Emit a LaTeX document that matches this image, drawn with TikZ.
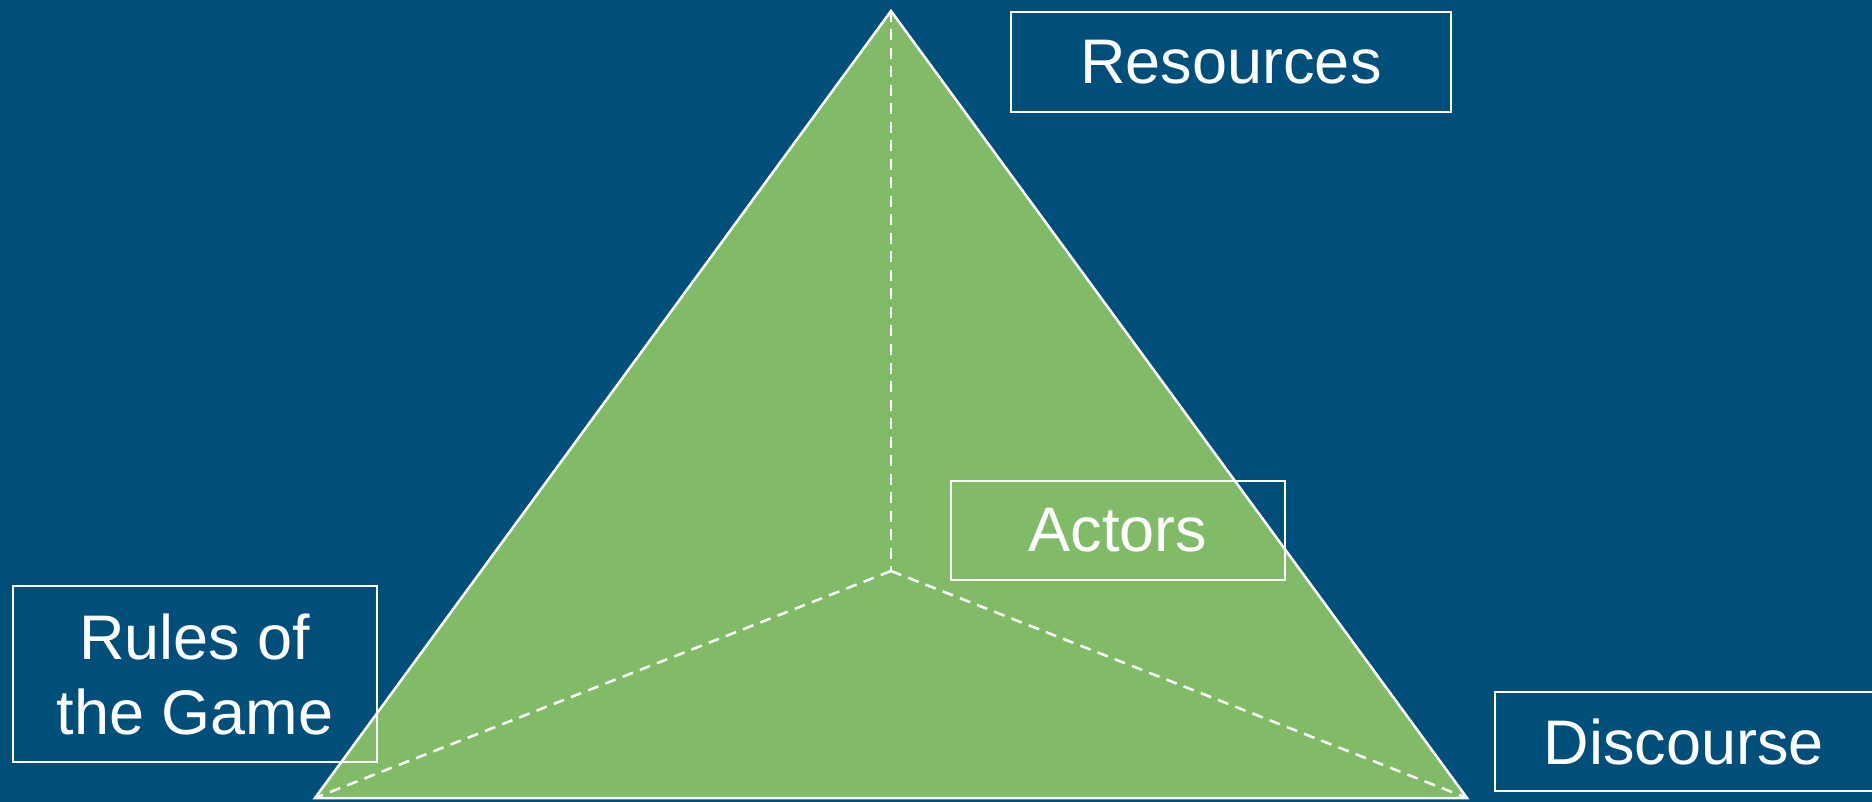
\documentclass[tikz,border=0pt]{standalone}
\usepackage{fontspec}
\setmainfont{Liberation Sans}
\definecolor{bgblue}{RGB}{0,78,122}
\definecolor{trigreen}{RGB}{130,187,103}
\begin{document}
\begin{tikzpicture}[x=1pt,y=-1pt,
  lbl/.style={draw=white, line width=2.5pt, text=white, inner sep=0pt, align=center,
              font=\fontsize{63}{75}\selectfont},
  triedge/.style={draw=white, line width=2.5pt, line join=miter},
  guide/.style={draw=white, line width=2.5pt, dash pattern=on 11pt off 7.5pt}]
\useasboundingbox (0,0) rectangle (1872,802);
\fill[bgblue] (0,0) rectangle (1872,802);
% pyramid
\coordinate (apex) at (891,11);
\coordinate (bl) at (315,798);
\coordinate (br) at (1467,798);
\coordinate (mid) at (891,571);
\filldraw[fill=trigreen, triedge] (apex) -- (bl) -- (br) -- cycle;
\draw[guide] (apex) -- (mid);
\draw[guide] (mid) -- (bl);
\draw[guide] (mid) -- (br);
% labels
\node[lbl, minimum width=440pt, minimum height=100pt] (res) at (1231,62) {Resources};
\node[lbl, minimum width=334pt, minimum height=99pt] (act) at (1118,530.5) {Actors};
\node[lbl, minimum width=364pt, minimum height=176pt] (rules) at (195,674) {Rules of\\the Game};
\node[lbl, minimum width=378pt, minimum height=99pt] (disc) at (1684,741.5) {Discourse};
\end{tikzpicture}
\end{document}
